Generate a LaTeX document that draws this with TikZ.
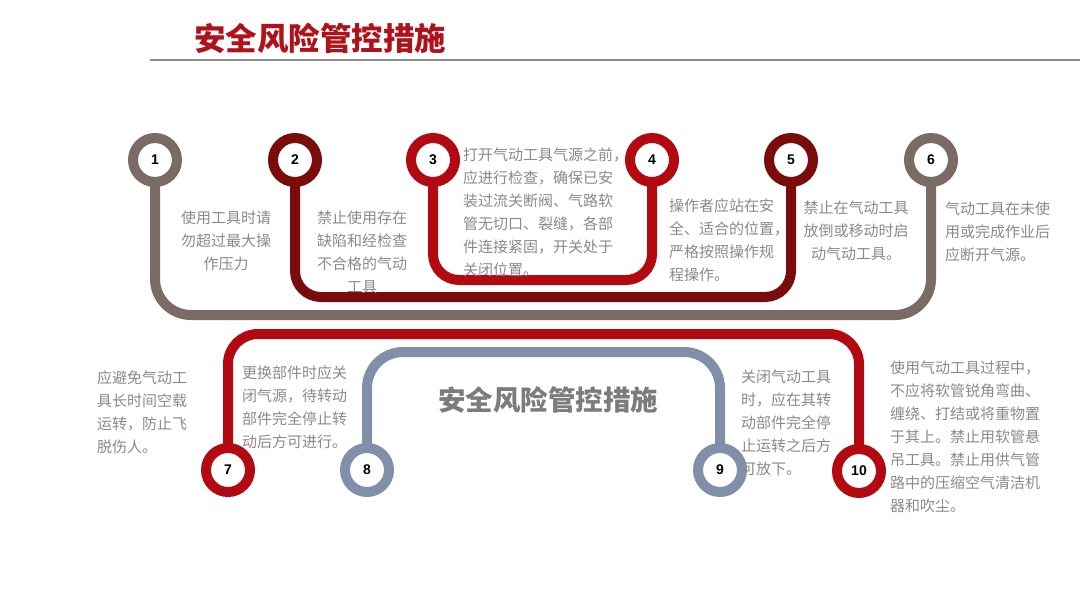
\documentclass[tikz,border=0pt]{standalone}
\usepackage{fontspec}
\newfontfamily\cjk{Noto Sans CJK SC}
\newfontfamily\numf{Liberation Sans}
\usetikzlibrary{backgrounds}
\definecolor{cBrown}{HTML}{7A6B64}
\definecolor{cDark}{HTML}{7A0C0C}
\definecolor{cRed}{HTML}{B30A12}
\definecolor{cBlue}{HTML}{8090A8}
\definecolor{cTitle}{HTML}{B0121B}
\definecolor{cText}{HTML}{8A8A8A}
\definecolor{cLine}{HTML}{8E8E8E}
\tikzset{
  ring/.style={circle, draw=#1, line width=10pt, fill=white, minimum size=44pt, inner sep=0pt,
    font=\numf\bfseries\fontsize{14}{14}\selectfont, text=black},
  pipe/.style={draw=#1, line width=10pt},
  desc/.style={inner sep=0pt, text=cText, font=\cjk\fontsize{15}{23}\selectfont},
}
\begin{document}
\begin{tikzpicture}[x=1pt,y=-1pt]
\useasboundingbox (0,0) rectangle (1080,607);
% title
\node[anchor=west, inner sep=0pt, text=cTitle, font=\cjk\bfseries\fontsize{31.5}{31.5}\selectfont] (title) at (194,38) {安全风险管控措施};
\coordinate (ls) at (150,60);
\coordinate (le) at (1080,60);
\draw[cLine, line width=2.2pt] (ls) -- (le);
% circles
\node[ring=cBrown] (c1) at (155,160) {1};
\node[ring=cDark] (c2) at (295,160) {2};
\node[ring=cRed] (c3) at (433,160) {3};
\node[ring=cRed] (c4) at (652,160) {4};
\node[ring=cDark] (c5) at (791,160) {5};
\node[ring=cBrown] (c6) at (931,160) {6};
\node[ring=cRed] (c7) at (228,470) {7};
\node[ring=cBlue] (c8) at (367,470) {8};
\node[ring=cBlue] (c9) at (720,470) {9};
\node[ring=cRed] (c10) at (859,471) {10};
% pipes
\begin{scope}[on background layer]
\fill[white] (0,0) rectangle (1080,607);
\draw[pipe=cBrown, rounded corners=36pt] (c1.center) -- (c1.center |- 0,315) -- (c6.center |- 0,315) -- (c6.center);
\draw[pipe=cDark, rounded corners=26pt] (c2.center) -- (c2.center |- 0,297) -- (c5.center |- 0,297) -- (c5.center);
\draw[pipe=cRed, rounded corners=26pt] (c3.center) -- (c3.center |- 0,280) -- (c4.center |- 0,280) -- (c4.center);
\draw[pipe=cRed, rounded corners=30pt] (c7.center) -- (c7.center |- 0,334) -- (c10.center |- 0,334) -- (c10.center);
\draw[pipe=cBlue, rounded corners=36pt] (c8.center) -- (c8.center |- 0,352) -- (c9.center |- 0,352) -- (c9.center);
\end{scope}
% center text
\node[inner sep=0pt, text=cText!90!black, font=\cjk\bfseries\fontsize{27.5}{27.5}\selectfont] (mid) at (548,400) {安全风险管控措施};
% descriptions
\node[desc, anchor=north, align=center] (t1) at (226,211) {使用工具时请\\勿超过最大操\\作压力};
\node[desc, anchor=north, align=center] (t2) at (362,211) {禁止使用存在\\缺陷和经检查\\不合格的气动\\工具};
\node[desc, anchor=north west, align=left] (t3) at (463,148) {打开气动工具气源之前，\\应进行检查，确保已安\\装过流关断阀、气路软\\管无切口、裂缝，各部\\件连接紧固，开关处于\\关闭位置。};
\node[desc, anchor=north west, align=left] (t4) at (669,199) {操作者应站在安\\全、适合的位置，\\严格按照操作规\\程操作。};
\node[desc, anchor=north, align=center] (t5) at (856,201) {禁止在气动工具\\放倒或移动时启\\动气动工具。};
\node[desc, anchor=north west, align=left] (t6) at (945,202) {气动工具在未使\\用或完成作业后\\应断开气源。};
\node[desc, anchor=north west, align=left] (t7) at (97,371) {应避免气动工\\具长时间空载\\运转，防止飞\\脱伤人。};
\node[desc, anchor=north west, align=left] (t8) at (242,366) {更换部件时应关\\闭气源，待转动\\部件完全停止转\\动后方可进行。};
\node[desc, anchor=north west, align=left] (t9) at (741,370) {关闭气动工具\\时，应在其转\\动部件完全停\\止运转之后方\\可放下。};
\node[desc, anchor=north west, align=left] (t10) at (890,361) {使用气动工具过程中，\\不应将软管锐角弯曲、\\缠绕、打结或将重物置\\于其上。禁止用软管悬\\吊工具。禁止用供气管\\路中的压缩空气清洁机\\器和吹尘。};
\end{tikzpicture}
\end{document}
